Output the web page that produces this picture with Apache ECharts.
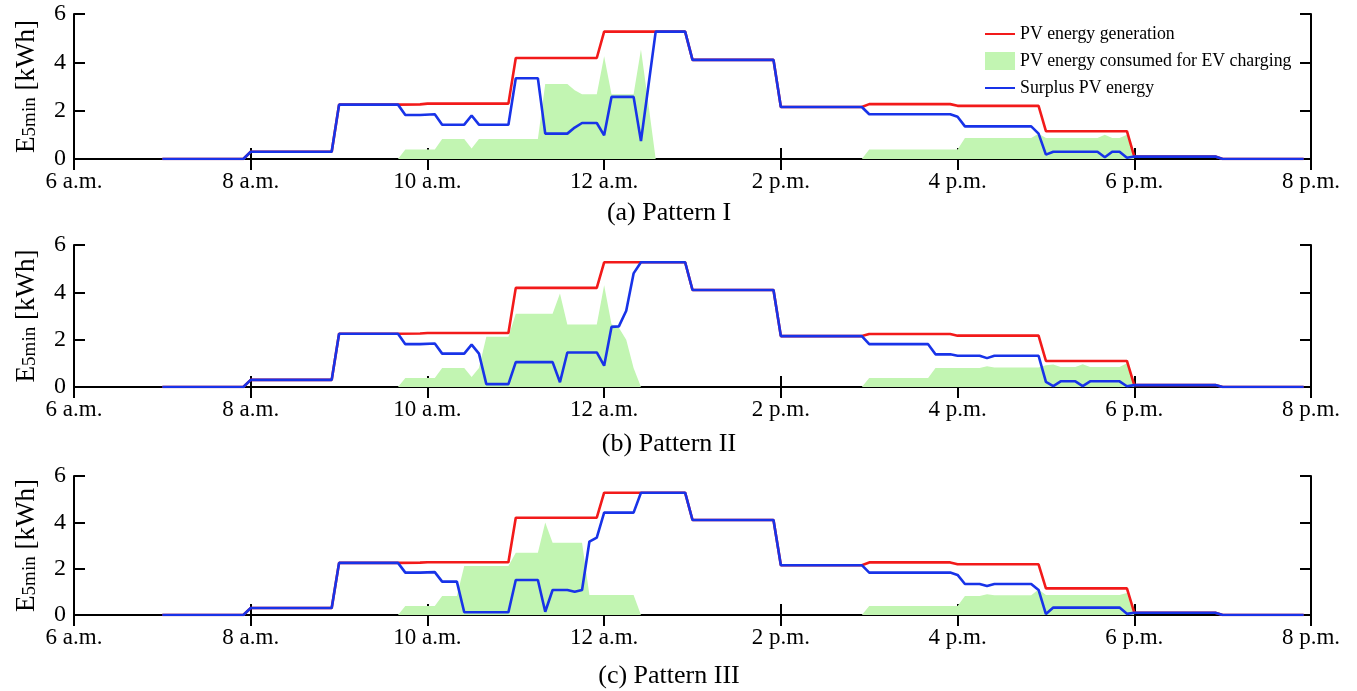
<!DOCTYPE html>
<html><head><meta charset="utf-8">
<script src="https://cdn.jsdelivr.net/npm/echarts@6/dist/echarts.min.js"></script>
<style>html,body{margin:0;padding:0;background:#fff}#c{width:1357px;height:691px}</style>
</head><body><div id="c"></div>
<script>
// ---------- tick labels / titles ----------
const xTickHours = [6, 8, 10, 12, 14, 16, 18, 20];
const xTickLabels = ['6 a.m.', '8 a.m.', '10 a.m.', '12 a.m.', '2 p.m.', '4 p.m.', '6 p.m.', '8 p.m.'];
const panelTitles = ['(a) Pattern I', '(b) Pattern II', '(c) Pattern III'];
const seriesNames = ['PV energy generation', 'PV energy consumed for EV charging', 'Surplus PV energy'];

// ---------- PV energy generation (all panels share the same breakpoints) ----------
const genTime = ['7:00','7:55','8:00','8:55','9:00','9:40','9:55','10:00','10:55','11:00','11:55','12:00','12:55','13:00','13:55','14:00','14:55','15:00','15:55','16:00','16:55','17:00','17:55','18:00','18:55','19:00','19:55'];
const genValA = [0,0,0.3,0.3,2.25,2.25,2.26,2.29,2.29,4.18,4.18,5.27,5.27,4.1,4.1,2.15,2.15,2.27,2.27,2.2,2.2,1.15,1.15,0.1,0.1,0,0];
const genValB = [0,0,0.3,0.3,2.25,2.25,2.26,2.28,2.28,4.19,4.19,5.27,5.27,4.1,4.1,2.15,2.15,2.24,2.24,2.17,2.17,1.1,1.1,0.08,0.08,0,0];
const genValC = [0,0,0.3,0.3,2.25,2.25,2.26,2.28,2.28,4.2,4.2,5.28,5.28,4.1,4.1,2.15,2.15,2.27,2.27,2.19,2.19,1.15,1.15,0.1,0.1,0,0];

// ---------- Pattern I ----------
const evTimeA = ['9:40','9:45','10:05','10:10','10:25','10:30','10:35','11:15','11:20','11:35','11:40','11:45','11:55','12:00','12:05','12:20','12:25','12:30','12:35','14:55','15:00','16:00','16:05','16:50','16:55','17:00','17:35','17:40','17:45','17:50','17:55','18:00'];
const evValA = [0,0.39,0.39,0.83,0.83,0.43,0.83,0.83,3.1,3.1,2.85,2.68,2.68,4.25,2.68,2.68,4.53,2.3,0,0,0.39,0.39,0.87,0.87,1.05,0.87,0.87,1.0,0.87,0.87,1.0,0];
const surTimeA = ['7:00','7:55','8:00','8:55','9:00','9:40','9:45','9:55','10:05','10:10','10:25','10:30','10:35','10:55','11:00','11:15','11:20','11:35','11:40','11:45','11:55','12:00','12:05','12:20','12:25','12:30','12:35','12:55','13:00','13:55','14:00','14:55','15:00','15:55','16:00','16:05','16:50','16:55','17:00','17:05','17:35','17:40','17:45','17:50','17:55','18:00','18:55','19:00','19:55'];
const surValA = [0,0,0.3,0.3,2.25,2.25,1.82,1.82,1.85,1.42,1.42,1.8,1.42,1.42,3.34,3.34,1.05,1.05,1.3,1.49,1.49,0.98,2.57,2.57,0.74,3.0,5.27,5.27,4.1,4.1,2.15,2.15,1.85,1.85,1.75,1.35,1.35,1.05,0.18,0.3,0.3,0.07,0.3,0.3,0.05,0.1,0.1,0,0];

// ---------- Pattern II ----------
const evTimeB = ['9:40','9:45','10:05','10:10','10:25','10:30','10:35','10:40','10:55','11:00','11:25','11:30','11:35','11:55','12:00','12:05','12:10','12:15','12:20','12:25','14:55','15:00','15:40','15:45','16:15','16:20','16:25','16:55','17:00','17:05','17:10','17:20','17:25','17:30','17:50','17:55','18:00'];
const evValB = [0,0.38,0.38,0.8,0.8,0.42,0.8,2.12,2.12,3.1,3.1,3.95,2.64,2.64,4.3,2.65,2.5,2.0,0.8,0,0,0.38,0.38,0.8,0.8,0.88,0.82,0.82,0.92,0.95,0.85,0.85,0.96,0.85,0.85,1.0,0];
const surTimeB = ['7:00','7:55','8:00','8:55','9:00','9:40','9:45','9:55','10:05','10:10','10:25','10:30','10:35','10:40','10:55','11:00','11:25','11:30','11:35','11:55','12:00','12:05','12:10','12:15','12:20','12:25','12:55','13:00','13:55','14:00','14:55','15:00','15:40','15:45','15:55','16:00','16:15','16:20','16:25','16:55','17:00','17:05','17:10','17:20','17:25','17:30','17:50','17:55','18:00','18:55','19:00','19:55'];
const surValB = [0,0,0.3,0.3,2.25,2.25,1.81,1.81,1.84,1.41,1.41,1.79,1.41,0.12,0.12,1.05,1.05,0.2,1.46,1.46,0.9,2.54,2.56,3.22,4.8,5.27,5.27,4.1,4.1,2.15,2.15,1.81,1.81,1.38,1.38,1.32,1.32,1.22,1.32,1.32,0.22,0.04,0.24,0.24,0.04,0.24,0.24,0.03,0.08,0.08,0,0];

// ---------- Pattern III ----------
const evTimeC = ['9:40','9:45','10:05','10:10','10:20','10:25','10:55','11:00','11:15','11:20','11:25','11:45','11:50','12:20','12:25','14:55','15:00','16:00','16:05','16:15','16:20','16:25','16:50','16:55','17:00','17:50','17:55','18:00'];
const evValC = [0,0.39,0.39,0.82,0.82,2.12,2.12,2.69,2.69,3.99,3.12,3.12,0.86,0.86,0,0,0.39,0.39,0.82,0.82,0.9,0.85,0.85,1.1,0.86,0.86,0.95,0];
const surTimeC = ['7:00','7:55','8:00','8:55','9:00','9:40','9:45','9:55','10:05','10:10','10:20','10:25','10:55','11:00','11:15','11:20','11:25','11:35','11:40','11:45','11:50','11:55','12:00','12:20','12:25','12:55','13:00','13:55','14:00','14:55','15:00','15:55','16:00','16:05','16:15','16:20','16:25','16:50','16:55','17:00','17:05','17:50','17:55','18:00','18:55','19:00','19:55'];
const surValC = [0,0,0.3,0.3,2.25,2.25,1.83,1.83,1.85,1.44,1.44,0.12,0.12,1.51,1.51,0.14,1.08,1.08,1.0,1.08,3.17,3.34,4.42,4.42,5.28,5.28,4.1,4.1,2.15,2.15,1.83,1.83,1.73,1.34,1.34,1.25,1.34,1.34,1.08,0.04,0.32,0.32,0.05,0.1,0.1,0,0];

// ---------- build ----------
const toHour = t => { const p = t.split(':'); return +p[0] + (+p[1]) / 60; };
const pairs = (ts, vs) => ts.map((t, i) => [toHour(t), vs[i]]);

const panels = [
  { gen: genValA, evT: evTimeA, evV: evValA, surT: surTimeA, surV: surValA, top: 14, height: 145, titleY: 213 },
  { gen: genValB, evT: evTimeB, evV: evValB, surT: surTimeB, surV: surValB, top: 245, height: 142, titleY: 444 },
  { gen: genValC, evT: evTimeC, evV: evValC, surT: surTimeC, surV: surValC, top: 476, height: 139, titleY: 676 }
];

const FONT = 'Liberation Serif, Times New Roman, serif';
const RED = '#f21a1a', BLUE = '#1833e8', GREEN = '#c2f5b2';
const axisLine = { show: true, lineStyle: { color: '#000', width: 2 } };
const axisTick = { show: true, inside: true, length: 11, lineStyle: { color: '#000', width: 2 } };
const LINE_ICON = 'path://M0,0L30,0L30,2L0,2Z';

const grid = [], xAxis = [], yAxis = [], series = [], graphic = [];
panels.forEach((p, i) => {
  grid.push({ left: 71, right: 46, top: p.top, height: p.height });
  xAxis.push({
    type: 'value', gridIndex: i, position: 'bottom', min: 6, max: 20, interval: 2,
    axisLine, axisTick, splitLine: { show: false },
    axisLabel: { color: '#000', fontFamily: FONT, fontSize: 23, margin: 11,
      formatter: v => xTickLabels[xTickHours.indexOf(v)] }
  });
  xAxis.push({
    type: 'value', gridIndex: i, position: 'top', min: 6, max: 20, interval: 2,
    axisLine, axisTick, splitLine: { show: false }, axisLabel: { show: false }
  });
  yAxis.push({
    type: 'value', gridIndex: i, position: 'left', min: 0, max: 6, interval: 2,
    axisLine, axisTick, splitLine: { show: false },
    axisLabel: { color: '#000', fontFamily: FONT, fontSize: 24, margin: 8 },
    name: '{e|E}{s|5min}{e| [kWh]}', nameLocation: 'middle', nameGap: 34,
    nameTextStyle: { color: '#000', fontFamily: FONT,
      rich: {
        e: { fontFamily: FONT, fontSize: 27, lineHeight: 27, color: '#000', verticalAlign: 'top' },
        s: { fontFamily: FONT, fontSize: 19, lineHeight: 19, color: '#000', verticalAlign: 'bottom', padding: [13, 0, 0, 0] }
      } }
  });
  yAxis.push({
    type: 'value', gridIndex: i, position: 'right', min: 0, max: 6, interval: 2,
    axisLine, axisTick, splitLine: { show: false }, axisLabel: { show: false }
  });
  series.push({
    name: seriesNames[1], type: 'line', xAxisIndex: 2 * i, yAxisIndex: 2 * i,
    data: pairs(p.evT, p.evV), symbol: 'none', itemStyle: { color: GREEN },
    lineStyle: { width: 0, color: GREEN }, areaStyle: { color: GREEN, opacity: 1 }, z: 2
  });
  series.push({
    name: seriesNames[0], type: 'line', xAxisIndex: 2 * i, yAxisIndex: 2 * i,
    data: pairs(genTime, p.gen), symbol: 'none', itemStyle: { color: RED },
    lineStyle: { width: 2.6, color: RED }, z: 3
  });
  series.push({
    name: seriesNames[2], type: 'line', xAxisIndex: 2 * i, yAxisIndex: 2 * i,
    data: pairs(p.surT, p.surV), symbol: 'none', itemStyle: { color: BLUE },
    lineStyle: { width: 2.6, color: BLUE }, z: 4
  });
  graphic.push({
    type: 'text', x: 669, y: p.titleY,
    style: { text: panelTitles[i], font: '26px ' + FONT, fill: '#000', textAlign: 'center', textVerticalAlign: 'middle' }
  });
});

const chart = echarts.init(document.getElementById('c'), null, { renderer: 'canvas' });
chart.setOption({
  animation: false,
  backgroundColor: '#fff',
  grid, xAxis, yAxis, series, graphic,
  legend: {
    orient: 'vertical', left: 980, top: 20, itemWidth: 30, itemHeight: 18, itemGap: 9,
    symbolKeepAspect: true,
    textStyle: { fontFamily: FONT, fontSize: 17.8, color: '#000' },
    data: [
      { name: seriesNames[0], icon: LINE_ICON },
      { name: seriesNames[1], icon: 'rect' },
      { name: seriesNames[2], icon: LINE_ICON }
    ]
  }
});
</script>
</body></html>
